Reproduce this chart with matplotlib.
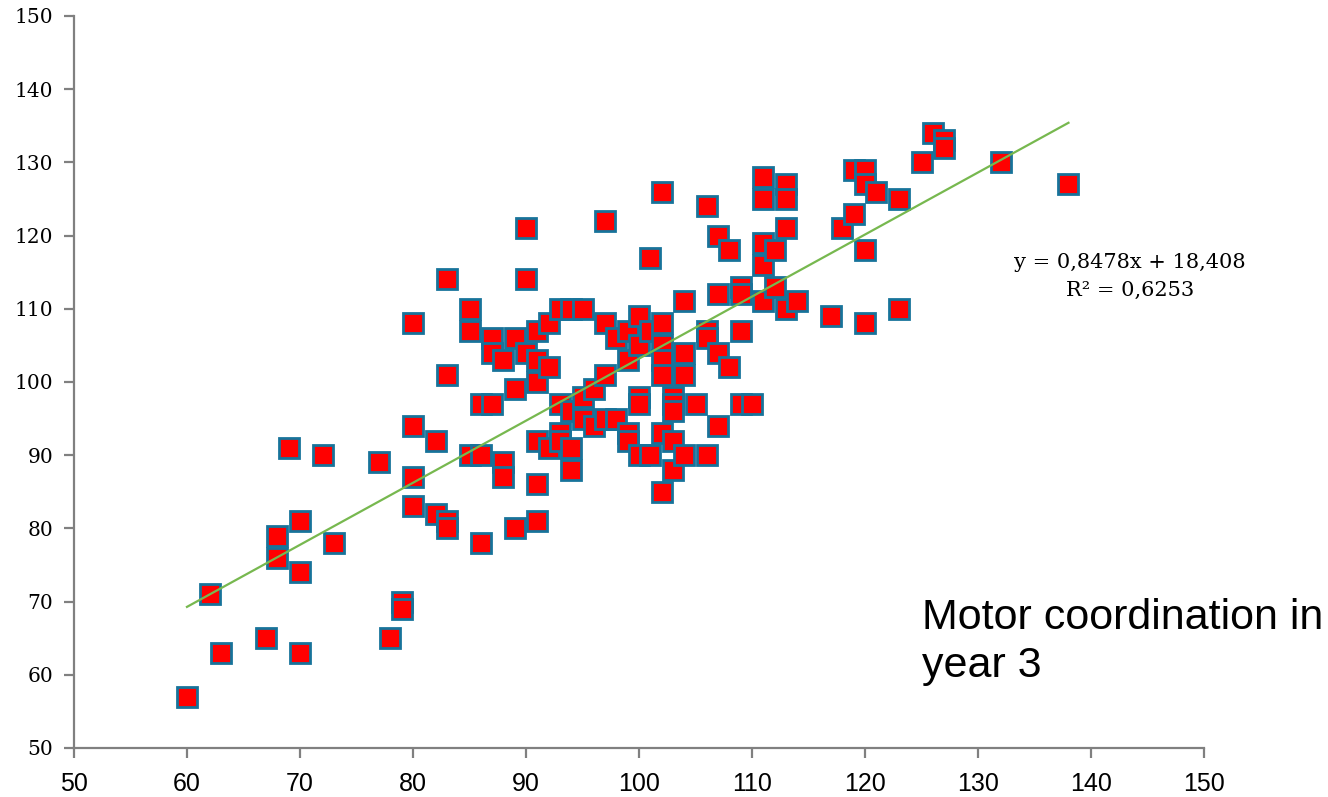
import numpy as np
import matplotlib
matplotlib.use("Agg")
from matplotlib import pyplot as plt

# motor coordination scores: x and y
x_vals = [60, 62, 63, 67, 68, 68, 69, 70, 70, 70, 72, 73, 77, 78, 79, 79,
          80, 80, 80, 80, 82, 82, 83, 83, 83, 83, 85, 85, 85, 86, 86, 86,
          87, 87, 87, 88, 88, 88, 89, 89, 89, 90, 90, 90,
          91, 91, 91, 91, 91, 91, 92, 92, 92, 93, 93, 93, 93,
          94, 94, 94, 94, 95, 95, 95, 96, 96, 97, 97, 97, 97, 98, 98,
          99, 99, 99, 99, 100, 100, 100, 100, 100, 101, 101, 101,
          102, 102, 102, 102, 102, 102, 102, 103, 103, 103, 103, 103,
          104, 104, 104, 104, 105, 106, 106, 106, 106, 107, 107, 107, 107,
          108, 108, 109, 109, 109, 109, 110, 111, 111, 111, 111, 111,
          112, 112, 113, 113, 113, 113, 114, 117, 118, 119, 119,
          120, 120, 120, 120, 121, 123, 123, 125, 126, 127, 127, 132, 138]
y_vals = [57, 71, 63, 65, 79, 76, 91, 81, 74, 63, 90, 78, 89, 65, 70, 69,
          108, 94, 87, 83, 92, 82, 114, 101, 81, 80, 110, 107, 90, 97, 90, 78,
          106, 104, 97, 103, 89, 87, 106, 99, 80, 121, 114, 104,
          107, 103, 100, 92, 86, 81, 108, 102, 91, 110, 97, 93, 92,
          110, 96, 91, 88, 110, 98, 95, 99, 94, 122, 108, 101, 95, 106, 95,
          107, 103, 93, 92, 109, 105, 98, 97, 90, 117, 107, 90,
          126, 108, 105, 103, 101, 93, 85, 98, 97, 96, 92, 88,
          111, 104, 101, 90, 97, 124, 107, 106, 90, 120, 112, 104, 94,
          118, 102, 113, 112, 107, 97, 97, 128, 125, 119, 116, 111,
          118, 113, 127, 125, 121, 110, 111, 109, 121, 129, 123,
          129, 127, 118, 108, 126, 125, 110, 130, 134, 133, 132, 130, 127]

slope = 0.8478
intercept = 18.408
eq_text = "y = 0,8478x + 18,408\nR² = 0,6253"
ticks = [50, 60, 70, 80, 90, 100, 110, 120, 130, 140, 150]

fig = plt.figure(figsize=(13.28, 7.97), dpi=100)
ax = fig.add_axes([0.0557, 0.0615, 0.851, 0.9185])

ax.plot(x_vals, y_vals, linestyle="none", marker="s", markersize=14.5,
        markerfacecolor="#ff0000", markeredgecolor="#17739a",
        markeredgewidth=2.0, zorder=3)

# trend line between the smallest and largest x
xl = np.array([min(x_vals), max(x_vals)])
ax.plot(xl, slope * xl + intercept, color="#77b84f", linewidth=1.6, zorder=4)

ax.set_xlim(50, 150)
ax.set_ylim(50, 150)
ax.set_xticks(ticks)
ax.set_yticks(ticks)

for s in ["top", "right"]:
    ax.spines[s].set_visible(False)
for s in ["left", "bottom"]:
    ax.spines[s].set_color("#808080")
    ax.spines[s].set_linewidth(1.6)
ax.tick_params(axis="both", direction="out", length=7, width=1.6,
               color="#808080")
ax.tick_params(axis="x", pad=10)
ax.tick_params(axis="y", pad=8)

for lab in ax.get_xticklabels():
    lab.set_fontfamily("Liberation Sans")
    lab.set_fontsize(18)
for lab in ax.get_yticklabels():
    lab.set_fontfamily("DejaVu Serif")
    lab.set_fontsize(14.5)

ax.text(1130, 797 - 276, eq_text, transform=None, ha="center", va="center",
        fontsize=15, family="DejaVu Serif", linespacing=1.6)
fig.text(922 / 1328, 1 - 598 / 797, "Motor coordination in\nyear 3",
         ha="left", va="top", fontsize=31, family="Liberation Sans",
         linespacing=1.25)

fig.savefig("out.png", dpi=100)
